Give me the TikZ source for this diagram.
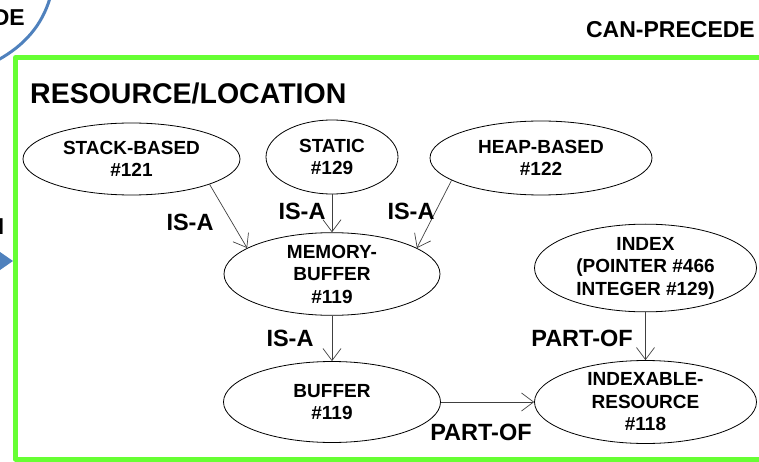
\documentclass[tikz,border=0pt]{standalone}
\usepackage{fontspec}
\setmainfont{Liberation Sans}
\usetikzlibrary{arrows.meta,shapes.geometric}
\definecolor{framegreen}{RGB}{102,255,51}
\definecolor{linkblue}{RGB}{79,129,189}

\begin{document}
\begin{tikzpicture}[x=1pt,y=-1pt,
  concept/.style={ellipse, draw, line width=0.8pt, inner sep=0pt, align=center,
    font=\fontsize{19}{22.5}\selectfont\bfseries},
  rel/.style={font=\fontsize{23.5}{26}\selectfont\bfseries, inner sep=0pt},
  link/.style={draw=black!75, line width=0.7pt,
    -{Straight Barb[length=12pt,width=18pt,line width=0.7pt]}},
]
\useasboundingbox (0,0) rectangle (759,462);
\clip (0,0) rectangle (759,462);

% outer context: neighbouring frame and links
\draw[linkblue, line width=3pt] (50,-2) .. controls (42,25) and (25,45) .. (-2,60);
\node[rel, anchor=east, font=\fontsize{23}{26}\selectfont\bfseries] (leftrel) at (25,17.5) {DE};
\node[rel, anchor=east, font=\fontsize{23}{26}\selectfont\bfseries] (leftrel2) at (4.5,226.5) {N};
\coordinate (intail) at (-40,261);
\coordinate (inhead) at (13,261);
\draw[linkblue, line width=4.5pt, -{Stealth[length=16pt,width=22pt,inset=4pt]}] (intail) -- (inhead);
\node[rel, anchor=east, font=\fontsize{23}{26}\selectfont\bfseries] (canprec) at (755,30) {CAN-PRECEDE};

% resource/location frame
\draw[framegreen, line width=5pt, line join=round] (790,57.5) -- (15.5,57.5) -- (15.5,459) -- (790,459);
\node[anchor=west, inner sep=0pt, font=\fontsize{28.5}{30}\selectfont\bfseries] (title) at (30,93) {RESOURCE/LOCATION};

% concepts
\node[concept, minimum width=217pt, minimum height=72pt] (stack) at (131.5,159) {STACK-BASED\\\#121};
\node[concept, minimum width=132pt, minimum height=74pt] (static) at (332,157) {STATIC\\\#129};
\node[concept, minimum width=222pt, minimum height=74pt] (heap) at (541,158) {HEAP-BASED\\\#122};
\node[concept, minimum width=216pt, minimum height=72pt] (mem) at (332,274) {MEMORY-\\BUFFER\\\#119};
\node[concept, minimum width=222pt, minimum height=87pt] (index) at (645.5,268) {INDEX\\(POINTER \#466\\INTEGER \#129)};
\node[concept, minimum width=217pt, minimum height=81pt] (buffer) at (332,402) {BUFFER\\\#119};
\node[concept, minimum width=222pt, minimum height=83pt] (idxres) at (645.5,402) {INDEXABLE-\\RESOURCE\\\#118};

% relations
\draw[link] (stack.-18) -- (mem.163);
\draw[link] (static.south) -- (mem.north);
\draw[link] (heap.194) -- (mem.17);
\draw[link] (mem.south) -- (buffer.north);
\draw[link] (index.south) -- (idxres.north);
\draw[link] (buffer.east) -- (idxres.west);

\node[rel] (isa1) at (190,222) {IS-A};
\node[rel] (isa2) at (302,211) {IS-A};
\node[rel] (isa3) at (411,211) {IS-A};
\node[rel] (isa4) at (290,338) {IS-A};
\node[rel] (partof1) at (582,338) {PART-OF};
\node[rel] (partof2) at (481,432) {PART-OF};
\end{tikzpicture}
\end{document}
